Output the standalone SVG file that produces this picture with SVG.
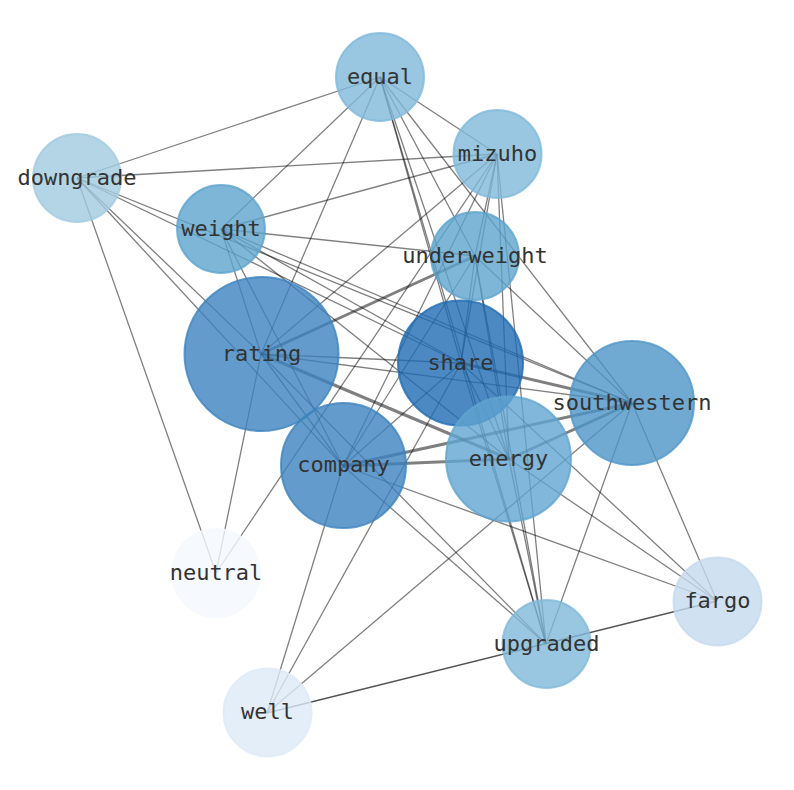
<svg xmlns="http://www.w3.org/2000/svg" width="794" height="790" viewBox="0 0 794 790">
<style>
.e{stroke:#000;stroke-opacity:0.5;stroke-width:1.3;fill:none}
.t{stroke-width:3}
.d{stroke-opacity:0.68;stroke-width:1.6}
.n circle{stroke-width:2;fill-opacity:0.8;stroke-opacity:0.8}
.n text{font-family:"DejaVu Sans Mono","Liberation Mono",monospace;font-size:22px;fill:#333;text-anchor:middle}
</style>
<rect width="794" height="790" fill="#fff"/>
<g id="edges">
<line class="e" x1="77" y1="178" x2="380" y2="77"/>
<line class="e" x1="77" y1="178" x2="497" y2="154"/>
<line class="e" x1="77" y1="178" x2="216" y2="573"/>
<line class="e" x1="77" y1="178" x2="261" y2="354"/>
<line class="e" x1="77" y1="178" x2="343" y2="466"/>
<line class="e" x1="77" y1="178" x2="461" y2="363"/>
<line class="e" x1="77" y1="178" x2="632" y2="403"/>
<line class="e" x1="380" y1="77" x2="221" y2="229"/>
<line class="e" x1="380" y1="77" x2="261" y2="354"/>
<line class="e" x1="380" y1="77" x2="497" y2="154"/>
<line class="e" x1="380" y1="77" x2="461" y2="363"/>
<line class="e" x1="380" y1="77" x2="546" y2="644"/>
<line class="e" x1="380" y1="77" x2="509" y2="459"/>
<line class="e" x1="380" y1="77" x2="475" y2="256"/>
<line class="e" x1="380" y1="77" x2="632" y2="403"/>
<line class="e" x1="221" y1="229" x2="497" y2="154"/>
<line class="e" x1="221" y1="229" x2="475" y2="256"/>
<line class="e" x1="221" y1="229" x2="261" y2="354"/>
<line class="e" x1="221" y1="229" x2="343" y2="466"/>
<line class="e" x1="221" y1="229" x2="461" y2="363"/>
<line class="e" x1="221" y1="229" x2="632" y2="403"/>
<line class="e" x1="221" y1="229" x2="509" y2="459"/>
<line class="e" x1="497" y1="154" x2="261" y2="354"/>
<line class="e" x1="497" y1="154" x2="216" y2="573"/>
<line class="e" x1="497" y1="154" x2="343" y2="466"/>
<line class="e" x1="497" y1="154" x2="461" y2="363"/>
<line class="e" x1="497" y1="154" x2="509" y2="459"/>
<line class="e" x1="497" y1="154" x2="546" y2="644"/>
<line class="e" x1="497" y1="154" x2="475" y2="256"/>
<line class="e t" x1="475" y1="256" x2="261" y2="354"/>
<line class="e" x1="475" y1="256" x2="461" y2="363"/>
<line class="e" x1="475" y1="256" x2="509" y2="459"/>
<line class="e" x1="475" y1="256" x2="546" y2="644"/>
<line class="e" x1="475" y1="256" x2="632" y2="403"/>
<line class="e" x1="475" y1="256" x2="343" y2="466"/>
<line class="e" x1="261" y1="354" x2="461" y2="363"/>
<line class="e" x1="261" y1="354" x2="632" y2="403"/>
<line class="e t" x1="261" y1="354" x2="509" y2="459"/>
<line class="e" x1="261" y1="354" x2="343" y2="466"/>
<line class="e" x1="261" y1="354" x2="546" y2="644"/>
<line class="e" x1="261" y1="354" x2="216" y2="573"/>
<line class="e t" x1="461" y1="363" x2="632" y2="403"/>
<line class="e" x1="461" y1="363" x2="717" y2="601"/>
<line class="e" x1="461" y1="363" x2="546" y2="644"/>
<line class="e" x1="461" y1="363" x2="267" y2="713"/>
<line class="e" x1="461" y1="363" x2="343" y2="466"/>
<line class="e" x1="461" y1="363" x2="509" y2="459"/>
<line class="e t" x1="343" y1="466" x2="509" y2="459"/>
<line class="e t" x1="343" y1="466" x2="632" y2="403"/>
<line class="e" x1="343" y1="466" x2="546" y2="644"/>
<line class="e" x1="343" y1="466" x2="717" y2="601"/>
<line class="e" x1="343" y1="466" x2="267" y2="713"/>
<line class="e t" x1="509" y1="459" x2="632" y2="403"/>
<line class="e" x1="509" y1="459" x2="546" y2="644"/>
<line class="e" x1="509" y1="459" x2="717" y2="601"/>
<line class="e" x1="632" y1="403" x2="546" y2="644"/>
<line class="e" x1="632" y1="403" x2="717" y2="601"/>
<line class="e" x1="632" y1="403" x2="267" y2="713"/>
<line class="e d" x1="267" y1="713" x2="717" y2="601"/>
</g>
<g id="node-neutral" class="n"><circle cx="216" cy="573" r="44" fill="#f4f9ff" stroke="#f4f9ff"/><text x="216" y="579.5">neutral</text></g>
<g id="node-well" class="n"><circle cx="267.5" cy="712.5" r="44" fill="#ddeaf6" stroke="#ddeaf6"/><text x="267.5" y="719">well</text></g>
<g id="node-fargo" class="n"><circle cx="717.5" cy="601.5" r="44" fill="#c4daef" stroke="#c4daef"/><text x="717.5" y="608">fargo</text></g>
<g id="node-downgrade" class="n"><circle cx="77" cy="178" r="44" fill="#a1cbe0" stroke="#a1cbe0"/><text x="77" y="184.5">downgrade</text></g>
<g id="node-equal" class="n"><circle cx="380" cy="77" r="44" fill="#80b9db" stroke="#80b9db"/><text x="380" y="83.5">equal</text></g>
<g id="node-mizuho" class="n"><circle cx="497.5" cy="154" r="44" fill="#80b9db" stroke="#80b9db"/><text x="497.5" y="160.5">mizuho</text></g>
<g id="node-upgraded" class="n"><circle cx="546.5" cy="644" r="44" fill="#80b9db" stroke="#80b9db"/><text x="546.5" y="650.5">upgraded</text></g>
<g id="node-weight" class="n"><circle cx="221" cy="229" r="44" fill="#5ea4ce" stroke="#5ea4ce"/><text x="221" y="235.5">weight</text></g>
<g id="node-underweight" class="n"><circle cx="475" cy="256" r="44" fill="#5ea4ce" stroke="#5ea4ce"/><text x="475" y="262.5">underweight</text></g>
<g id="node-rating" class="n"><circle cx="261.5" cy="354" r="77" fill="#3c83bf" stroke="#3c83bf"/><text x="261.5" y="360.5">rating</text></g>
<g id="node-company" class="n"><circle cx="343.5" cy="465.5" r="62.5" fill="#3c83bf" stroke="#3c83bf"/><text x="343.5" y="472">company</text></g>
<g id="node-share" class="n"><circle cx="460.5" cy="363" r="62.5" fill="#1f6bb3" stroke="#1f6bb3"/><text x="460.5" y="369.5">share</text></g>
<g id="node-energy" class="n"><circle cx="508.5" cy="459" r="62.5" fill="#60a5d1" stroke="#60a5d1"/><text x="508.5" y="465.5">energy</text></g>
<g id="node-southwestern" class="n"><circle cx="632" cy="403" r="62" fill="#4c95c8" stroke="#4c95c8"/><text x="632" y="409.5">southwestern</text></g>
</svg>
